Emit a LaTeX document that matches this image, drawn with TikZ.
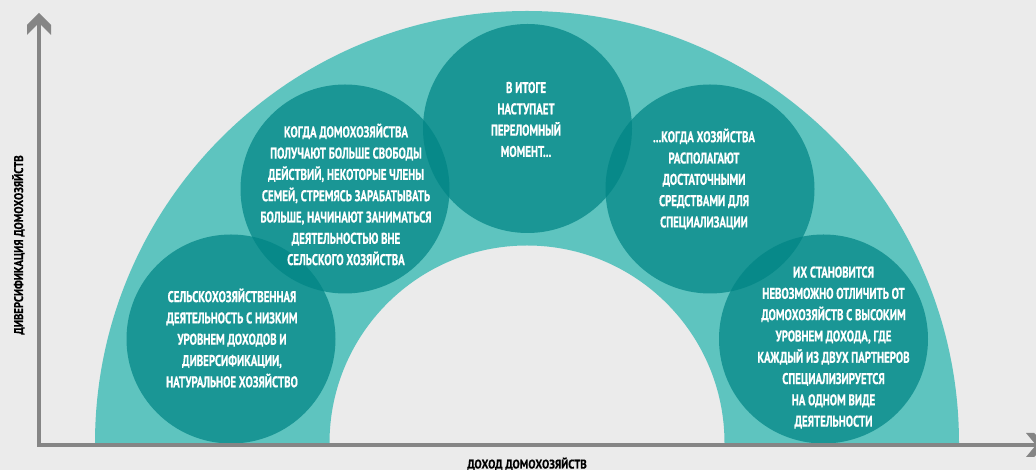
\documentclass[tikz,border=0pt]{standalone}
\usepackage{fontspec}
\setmainfont{PT Sans}[FakeStretch=0.70, BoldFeatures={FakeBold=0.6}]
\newfontfamily\axisfont{PT Sans}[FakeStretch=0.86, BoldFeatures={FakeBold=0.6}]
\definecolor{bgc}{HTML}{EBEBEB}
\definecolor{archc}{HTML}{5EC4BF}
\definecolor{circc}{RGB}{0,133,133}
\definecolor{axisc}{HTML}{858585}
\tikzset{
  bubble/.style={circle, fill=circc, fill opacity=0.72, minimum size=209pt, inner sep=0pt},
  bubbletext/.style={text=white, align=center, inner sep=0pt, font=\bfseries\fontsize{15.5}{21.3}\selectfont},
  axislabel/.style={text=black, inner sep=0pt, font=\axisfont\bfseries\fontsize{12.5}{14}\selectfont},
  axisline/.style={draw=axisc, line width=3.6pt},
  axishead/.style={fill=axisc}
}
\begin{document}
\begin{tikzpicture}[x=1pt,y=1pt]
\fill[bgc] (0,0) rectangle (1036,470);
\useasboundingbox (0,0) rectangle (1036,470);
% arch
\fill[archc] (95,27) arc[start angle=180,end angle=0,radius=432pt] -- (724.5,27) arc[start angle=0,end angle=180,radius=197.5pt] -- cycle;
% circles
\node[bubble] (c1) at (231,131) {};
\node[bubble] (c2) at (345,281) {};
\node[bubble] (c3) at (527.5,341.5) {};
\node[bubble] (c4) at (710,281) {};
\node[bubble] (c5) at (823.5,131) {};
% texts
\node[bubbletext] (t1) at (232,132) {СЕЛЬСКОХОЗЯЙСТВЕННАЯ\\ДЕЯТЕЛЬНОСТЬ С НИЗКИМ\\УРОВНЕМ ДОХОДОВ И\\ДИВЕРСИФИКАЦИИ,\\НАТУРАЛЬНОЕ ХОЗЯЙСТВО};
\node[bubbletext] (t2) at (346,275.5) {КОГДА ДОМОХОЗЯЙСТВА\\ПОЛУЧАЮТ БОЛЬШЕ СВОБОДЫ\\ДЕЙСТВИЙ, НЕКОТОРЫЕ ЧЛЕНЫ\\СЕМЕЙ, СТРЕМЯСЬ ЗАРАБАТЫВАТЬ\\БОЛЬШЕ, НАЧИНАЮТ ЗАНИМАТЬСЯ\\ДЕЯТЕЛЬНОСТЬЮ ВНЕ\\СЕЛЬСКОГО ХОЗЯЙСТВА};
\node[bubbletext] (t3) at (526,350.5) {В ИТОГЕ\\НАСТУПАЕТ\\ПЕРЕЛОМНЫЙ\\МОМЕНТ...};
\node[bubbletext] (t4) at (704,291) {...КОГДА ХОЗЯЙСТВА\\РАСПОЛАГАЮТ\\ДОСТАТОЧНЫМИ\\СРЕДСТВАМИ ДЛЯ\\СПЕЦИАЛИЗАЦИИ};
\node[bubbletext] (t5) at (833.5,122.5) {ИХ СТАНОВИТСЯ\\НЕВОЗМОЖНО ОТЛИЧИТЬ ОТ\\ДОМОХОЗЯЙСТВ С ВЫСОКИМ\\УРОВНЕМ ДОХОДА, ГДЕ\\КАЖДЫЙ ИЗ ДВУХ ПАРТНЕРОВ\\СПЕЦИАЛИЗИРУЕТСЯ\\НА ОДНОМ ВИДЕ\\ДЕЯТЕЛЬНОСТИ};
% axes
\coordinate (o) at (39,25);
\coordinate (ytop) at (39,447);
\coordinate (xend) at (1037,25);
\draw[axisline] (39,23.2) -- (ytop);
\draw[axisline] (o) -- (xend);
\fill[axishead] (39,457) -- (51,445) -- (51,435) -- (39,447) -- (27,435) -- (27,445) -- cycle;
\fill[axishead] (1046,25) -- (1034,37) -- (1026,37) -- (1036,25) -- (1026,13) -- (1034,13) -- cycle;
% axis labels
\node[axislabel, anchor=base] (xl) at (527,1.5) {ДОХОД ДОМОХОЗЯЙСТВ};
\node[axislabel, rotate=90, anchor=base] (yl) at (23,225) {ДИВЕРСИФИКАЦИЯ ДОМОХОЗЯЙСТВ};
\end{tikzpicture}
\end{document}
